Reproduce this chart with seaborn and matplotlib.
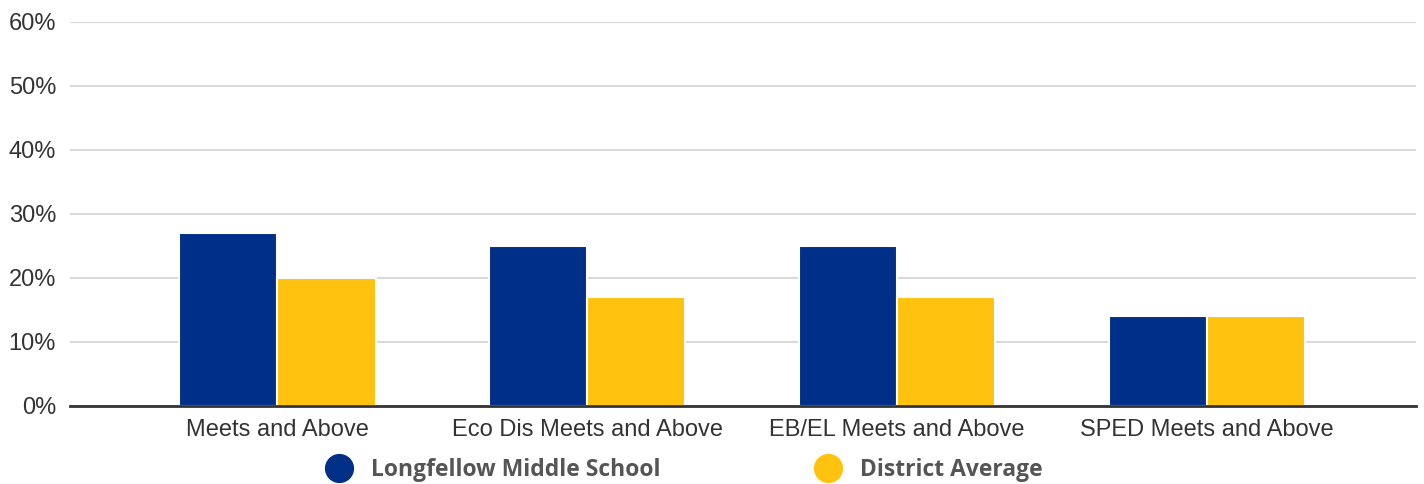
import pandas as pd
import numpy as np
import matplotlib
matplotlib.use('Agg')
import matplotlib.pyplot as plt
import seaborn as sns
from matplotlib.lines import Line2D
from matplotlib.ticker import PercentFormatter

# Data
categories = ['Meets and Above', 'Eco Dis Meets and Above', 'EB/EL Meets and Above', 'SPED Meets and Above']
school = [0.27, 0.25, 0.25, 0.14]
district = [0.20, 0.17, 0.17, 0.14]
series_names = ['Longfellow Middle School', 'District Average']
colors = ['#002F87', '#FFC20E']

df = pd.DataFrame({
    'Category': categories * 2,
    'Value': school + district,
    'Series': [series_names[0]] * 4 + [series_names[1]] * 4,
})

sns.set_style('white')
plt.rcParams['font.family'] = ['Liberation Sans', 'DejaVu Sans']

fig = plt.figure(figsize=(14.24, 4.84), dpi=100)
ax = fig.add_axes([70 / 1424, 78 / 484, 1346 / 1424, 384 / 484])

sns.barplot(data=df, x='Category', y='Value', hue='Series', palette=colors,
            saturation=1, width=0.635, edgecolor='white', linewidth=1.5,
            ax=ax, legend=False, zorder=3)

ax.set_ylim(0, 0.6)
ax.set_xlim(-0.668, 3.674)
ax.set_yticks(np.arange(0, 0.61, 0.1))
ax.yaxis.set_major_formatter(PercentFormatter(1.0, decimals=0))
ax.grid(axis='y', color='#d9d9d9', linewidth=1.5, zorder=0)
ax.set_axisbelow(True)
for s in ['top', 'right', 'left']:
    ax.spines[s].set_visible(False)
ax.spines['bottom'].set_color('#333333')
ax.spines['bottom'].set_linewidth(2)
ax.spines['bottom'].set_zorder(5)
ax.tick_params(axis='both', length=0, labelsize=17, colors='#333333')
ax.tick_params(axis='y', pad=10)
ax.tick_params(axis='x', pad=9)
ax.set_xlabel('')
ax.set_ylabel('')

# legend with round markers under the plot
handles = [Line2D([0], [0], marker='o', linestyle='', markersize=20,
                  markerfacecolor=c, markeredgecolor=c) for c in colors]
leg = fig.legend(handles, series_names, loc='center left',
                 bbox_to_anchor=(325 / 1424, 1 - 470 / 484),
                 ncol=2, frameon=False, borderpad=0, borderaxespad=0,
                 handlelength=1.2, handletextpad=0.8, columnspacing=6.7,
                 prop={'family': 'Open Sans', 'weight': 'bold', 'size': 16.5})
for t in leg.get_texts():
    t.set_color('#555555')

fig.savefig('out.png', dpi=100)
